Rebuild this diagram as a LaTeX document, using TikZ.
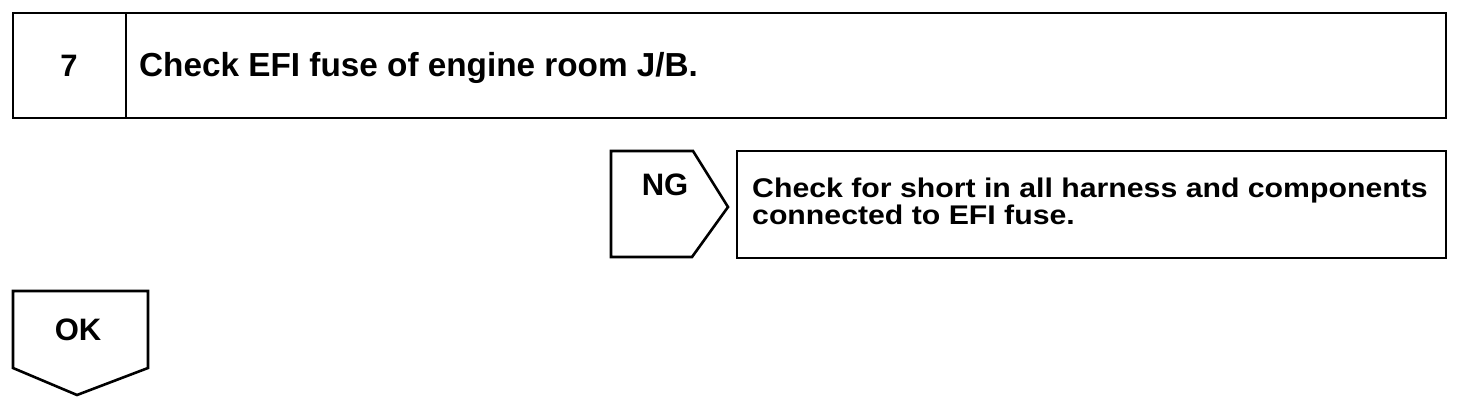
\documentclass[tikz,border=0pt]{standalone}
\usepackage{fontspec}
\setmainfont{Liberation Sans}
\newfontfamily\boxfont[FakeStretch=1.12]{Liberation Sans}
\begin{document}
\begin{tikzpicture}[x=1pt,y=-1pt,
  line/.style={draw=black,line width=2.6pt,line join=miter},
  txt/.style={font=\bfseries\fontsize{31}{32}\selectfont,inner sep=0pt},
  lbl/.style={inner sep=0pt,anchor=base west,font=\bfseries\fontsize{33.3}{34}\selectfont}]
\useasboundingbox (0,0) rectangle (1472,406);
% top step box
\draw[line] (13,13) rectangle (1446,118);
\draw[line] (126,13) -- (126,118);
\node[txt,anchor=base] (num) at (69,77) {7};
\node[lbl] (title) at (139,77) {Check EFI fuse of engine room J/B.};
% NG arrow
\draw[line] (611,151) -- (693,151) -- (728,207) -- (692,257) -- (611,257) -- cycle;
\node[txt,anchor=base] (ng) at (665,196) {NG};
% NG action box
\draw[line] (737,151) rectangle (1446,258);
\node[inner sep=0pt,anchor=base west,align=left,font=\boxfont\bfseries\fontsize{27}{27}\selectfont] (act) at (752,225)
  {Check for short in all harness and components\\connected to EFI fuse.};
% OK arrow
\draw[line] (13,291) -- (148,291) -- (148,368) -- (77,395) -- (13,368) -- cycle;
\node[txt,anchor=base] (ok) at (78,340) {OK};
\end{tikzpicture}
\end{document}
